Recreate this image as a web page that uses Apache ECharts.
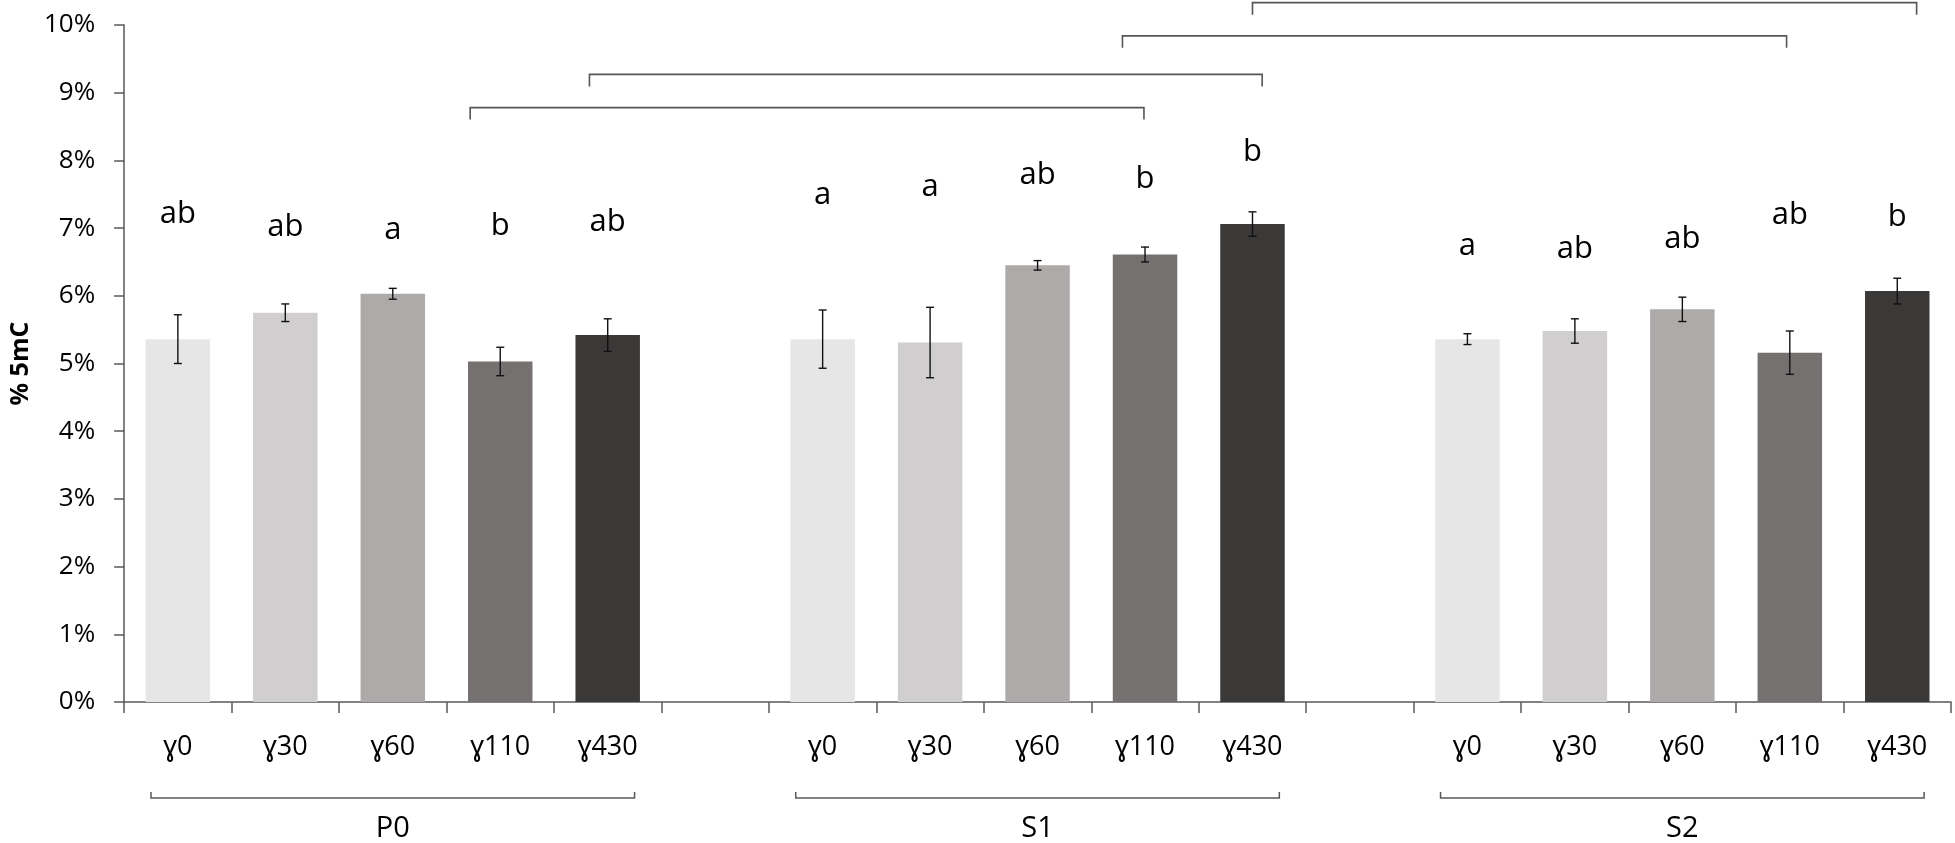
<!DOCTYPE html>
<html>
<head>
<meta charset="utf-8">
<script src="https://cdn.jsdelivr.net/npm/echarts@6/dist/echarts.min.js"></script>
<style>
  html, body { margin: 0; padding: 0; background: #fff; }
  #chart { width: 1955px; height: 843px; }
</style>
</head>
<body>
<div id="chart"></div>
<script>
// groups and doses
const groups = ['P0', 'S1', 'S2'];
const doses = ['ɣ0', 'ɣ30', 'ɣ60', 'ɣ110', 'ɣ430'];

// % 5mC means and error (sd)
const meanP0 = [5.36, 5.75, 6.03, 5.03, 5.42];
const sdP0 = [0.36, 0.13, 0.08, 0.21, 0.24];
const meanS1 = [5.36, 5.31, 6.45, 6.61, 7.06];
const sdS1 = [0.43, 0.52, 0.07, 0.11, 0.18];
const meanS2 = [5.36, 5.48, 5.80, 5.16, 6.07];
const sdS2 = [0.08, 0.18, 0.18, 0.32, 0.19];

// letters of significance, and the level (in %) where each sits
const lettersP0 = ['ab', 'ab', 'a', 'b', 'ab'];
const lettersS1 = ['a', 'a', 'ab', 'b', 'b'];
const lettersS2 = ['a', 'ab', 'ab', 'ab', 'b'];
const letterLvP0 = [7.10, 6.91, 6.86, 6.92, 6.97];
const letterLvS1 = [7.38, 7.50, 7.67, 7.61, 8.01];
const letterLvS2 = [6.62, 6.58, 6.73, 7.08, 7.05];

// brackets between groups (category position from/to, level in %)
const bracketFrom = [2.72, 3.83, 8.79, 10.00];
const bracketTo = [8.99, 10.09, 14.97, 16.18];
const bracketLevel = [8.78, 9.27, 9.84, 10.33];

const yTicks = [0, 1, 2, 3, 4, 5, 6, 7, 8, 9, 10];

const doseColors = ['#E7E6E6', '#D0CECE', '#AEAAAA', '#767171', '#3B3838'];
const FONT = "'Open Sans', 'Noto Sans', 'DejaVu Sans', sans-serif";

// build the 17 slot category axis
const means = [meanP0, meanS1, meanS2];
const sds = [sdP0, sdS1, sdS2];
const letters = [lettersP0, lettersS1, lettersS2];
const letterLv = [letterLvP0, letterLvS1, letterLvS2];

let cats = [];
let barData = [];
let errData = [];
let letterData = [];
let groupData = [];
groups.forEach(function (g, gi) {
  if (gi > 0) {
    cats.push(' ' + gi);
    barData.push('-');
  }
  let start = cats.length;
  doses.forEach(function (d, di) {
    let idx = cats.length;
    cats.push(d + '|' + g);
    barData.push({ value: means[gi][di], itemStyle: { color: doseColors[di] } });
    errData.push([idx, means[gi][di], sds[gi][di]]);
    letterData.push([idx, letterLv[gi][di], letters[gi][di]]);
  });
  groupData.push([start, cats.length - 1, g]);
});

let bracketData = bracketFrom.map(function (f, i) {
  return [f, bracketTo[i], bracketLevel[i]];
});

const chart = echarts.init(document.getElementById('chart'));

const option = {
  animation: false,
  backgroundColor: '#fff',
  grid: { left: 111, right: 4, top: 25, bottom: 141 },
  xAxis: [{
    type: 'category',
    data: cats,
    boundaryGap: true,
    axisLine: { lineStyle: { color: '#595959', width: 1.5 } },
    axisTick: { show: true, interval: 0, length: 11, lineStyle: { color: '#595959', width: 1.5 } },
    axisLabel: {
      interval: 0,
      margin: 32,
      color: '#000',
      fontFamily: FONT,
      fontSize: 27,
      formatter: function (v) { return v.indexOf('|') >= 0 ? v.split('|')[0] : ''; }
    },
    splitLine: { show: false }
  }, {
    type: 'value',
    min: -0.5,
    max: 16.5,
    show: false
  }],
  yAxis: {
    type: 'value',
    min: 0,
    max: 10,
    interval: 1,
    name: '% 5mC',
    nameLocation: 'middle',
    nameGap: 90,
    nameTextStyle: { fontFamily: FONT, fontSize: 25, fontWeight: 'bold', color: '#000' },
    axisLine: { show: true, onZero: false, lineStyle: { color: '#595959', width: 1.5 } },
    axisTick: { show: true, length: 10, lineStyle: { color: '#595959', width: 1.5 } },
    axisLabel: {
      margin: 29,
      color: '#000',
      fontFamily: FONT,
      fontSize: 26,
      formatter: function (v) { return yTicks.indexOf(v) >= 0 ? v + '%' : ''; }
    },
    splitLine: { show: false }
  },
  series: [{
    // bars
    type: 'bar',
    data: barData,
    barCategoryGap: '40%'
  }, {
    // error bars
    type: 'custom',
    data: errData,
    z: 5,
    renderItem: function (params, api) {
      let x = api.value(0), m = api.value(1), s = api.value(2);
      let hi = api.coord([x, m + s]);
      let lo = api.coord([x, m - s]);
      let st = { stroke: '#111', lineWidth: 1.4 };
      return {
        type: 'group',
        children: [
          { type: 'line', shape: { x1: hi[0], y1: hi[1], x2: lo[0], y2: lo[1] }, style: st },
          { type: 'line', shape: { x1: hi[0] - 4, y1: hi[1], x2: hi[0] + 4, y2: hi[1] }, style: st },
          { type: 'line', shape: { x1: lo[0] - 4, y1: lo[1], x2: lo[0] + 4, y2: lo[1] }, style: st }
        ]
      };
    }
  }, {
    // letters above the bars
    type: 'custom',
    data: letterData,
    z: 6,
    renderItem: function (params, api) {
      let p = api.coord([api.value(0), api.value(1)]);
      return {
        type: 'text',
        style: {
          text: letterData[params.dataIndex][2],
          x: p[0],
          y: p[1] + 8,
          align: 'center',
          verticalAlign: 'bottom',
          font: '31px ' + FONT,
          fill: '#000'
        }
      };
    }
  }, {
    // brackets between groups
    type: 'custom',
    xAxisIndex: 1,
    data: bracketData,
    clip: false,
    z: 6,
    renderItem: function (params, api) {
      let a = api.coord([api.value(0), api.value(2)]);
      let b = api.coord([api.value(1), api.value(2)]);
      return {
        type: 'polyline',
        shape: { points: [[a[0], a[1] + 12], [a[0], a[1]], [b[0], b[1]], [b[0], b[1] + 12]] },
        style: { stroke: '#555', lineWidth: 1.6, fill: null }
      };
    }
  }, {
    // group brackets and names under the axis
    type: 'custom',
    data: groupData,
    clip: false,
    z: 6,
    renderItem: function (params, api) {
      let s = api.coord([api.value(0), 0]);
      let e = api.coord([api.value(1), 0]);
      let w = api.size([1, 0])[0];
      let y = s[1] + 96;
      let x1 = s[0] - 0.25 * w, x2 = e[0] + 0.25 * w;
      return {
        type: 'group',
        children: [{
          type: 'polyline',
          shape: { points: [[x1, y - 6], [x1, y], [x2, y], [x2, y - 6]] },
          style: { stroke: '#595959', lineWidth: 1.5, fill: null }
        }, {
          type: 'text',
          style: {
            text: groupData[params.dataIndex][2],
            x: (s[0] + e[0]) / 2,
            y: y + 31,
            align: 'center',
            verticalAlign: 'middle',
            font: '29px ' + FONT,
            fill: '#000'
          }
        }]
      };
    }
  }]
};

chart.setOption(option);
</script>
</body>
</html>
